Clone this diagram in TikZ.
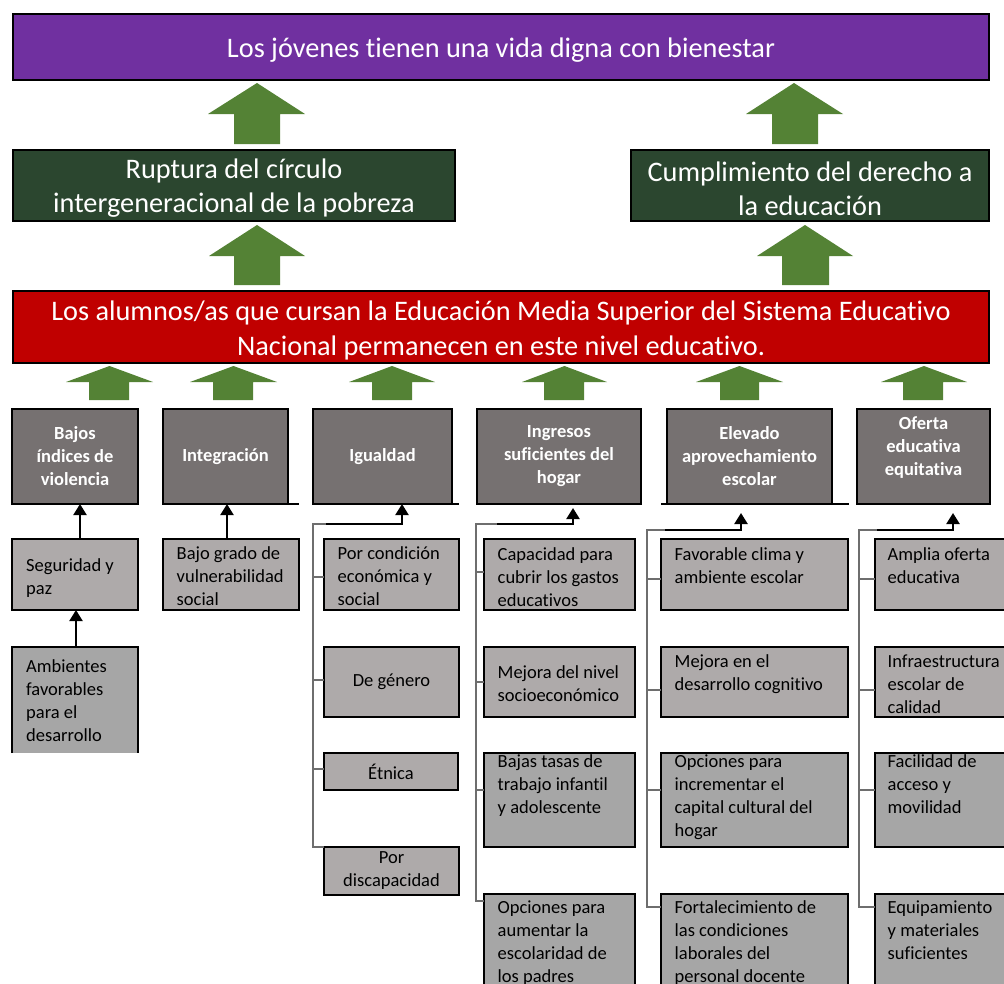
\documentclass[tikz,border=0pt]{standalone}
\usepackage{fontspec}
\setmainfont{Carlito}[Ligatures=NoCommon]
\usetikzlibrary{arrows.meta,calc}
\definecolor{cpurple}{HTML}{7030A0}
\definecolor{cdkgreen}{HTML}{2B462F}
\definecolor{cred}{HTML}{C00000}
\definecolor{cgreen}{HTML}{548235}
\definecolor{ccat}{HTML}{767171}
\definecolor{cchild}{HTML}{AEAAAA}
\definecolor{cchildb}{HTML}{A6A6A6}
\definecolor{cbracket}{HTML}{6E6E6E}
\newcommand\bigf{\fontsize{28.3pt}{34pt}\selectfont}
\newcommand\redf{\fontsize{28.3pt}{35pt}\selectfont}
\newcommand\smf{\fontsize{18.5pt}{23pt}\selectfont}
\newcommand\tl[1]{\parbox[t]{220pt}{\raggedright\smf #1}}
\newcommand\garrow[8]{\fill[cgreen] (#1,#2) -- (#4,#7) -- (#6,#7) -- (#6,#8) -- (#5,#8) -- (#5,#7) -- (#3,#7) -- cycle;}
\newcommand\stub[3]{\coordinate (stubend) at ([yshift=#3]#2.west); \draw[bline] (#1 |- stubend) -- (stubend);}
\begin{document}
\begin{tikzpicture}[x=1pt,y=-1pt,
  bx/.style n args={4}{at={(#1,#2)}, anchor=north west, minimum width=#3pt, minimum height=#4pt, inner sep=0pt, outer sep=0pt, line width=2pt},
  bigbox/.style={draw=black},
  bigtext/.style={text=white, font=\bigf, align=center, inner sep=0pt},
  catbox/.style={draw=black, fill=ccat, text=white, font=\smf\bfseries, align=center},
  childbox/.style={draw=black, fill=cchild, text=black, font=\smf, align=center},
  childboxb/.style={draw=black, fill=cchildb, text=black, font=\smf, align=center},
  ctext/.style={anchor=base west, inner sep=0pt, text=black},
  arr/.style={line width=2.2pt, -{Triangle[width=13pt,length=11pt]}},
  bline/.style={draw=cbracket, line width=1.3pt},
  edge/.style={line width=2pt}
]
\useasboundingbox (0,0) rectangle (1004,983);

% top level boxes
\node[bigbox, fill=cpurple, bx={13}{14}{976}{66}] (goal) {};
\node[bigtext] (goalt) at ([yshift=-3pt]goal.center) {Los jóvenes tienen una vida digna con bienestar};
\node[bigbox, fill=cdkgreen, bx={13}{150}{442}{71}] (rupt) {};
\node[bigtext] (ruptt) at ([yshift=-3pt]rupt.center) {Ruptura del círculo\\intergeneracional de la pobreza};
\node[bigbox, fill=cdkgreen, bx={631}{150}{358}{71}] (cump) {};
\node[bigtext] (cumpt) at ([yshift=-3pt]cump.center) {Cumplimiento del derecho a\\la educación};
\node[bigbox, fill=cred, bx={13}{291}{976}{72}] (purp) {};
\node[bigtext, font=\redf] (purpt) at ([yshift=-3.5pt]purp.center) {Los alumnos/as que cursan la Educación Media Superior del Sistema Educativo\\Nacional permanecen en este nivel educativo.};

% big green arrows
\garrow{257}{83}{208}{305}{234}{280}{114}{144}
\garrow{794}{83}{746}{843}{772}{818}{114}{144}
\garrow{257}{225}{209}{305}{234}{280}{256}{285}
\garrow{805}{225}{757}{853}{782}{829}{256}{285}
% small green arrows
\garrow{109.5}{366}{66}{153}{89}{129}{382}{400}
\garrow{233.5}{366}{190}{277}{213}{253}{382}{400}
\garrow{392}{366}{349}{435}{372}{412}{382}{400}
\garrow{564.5}{366}{522}{607}{544}{584}{382}{400}
\garrow{739.5}{366}{696}{783}{720}{759}{382}{400}
\garrow{924}{366}{881}{967}{903}{943}{382}{400}

% category boxes
\node[catbox, bx={12}{409}{126}{95}] (bajos) {Bajos\\índices de\\violencia};
\node[catbox, bx={163}{409}{125}{95}] (integ) {Integración};
\node[catbox, bx={313}{409}{139}{95}] (igual) {Igualdad};
\node[catbox, bx={477}{409}{164}{95}] (ingre) {Ingresos\\suficientes del\\hogar};
\node[catbox, bx={667}{409}{165}{95}] (eleva) {Elevado\\aprovechamiento\\escolar};
\node[catbox, bx={857}{409}{133}{95}] (ofert) {};
\node[text=white, font=\smf\bfseries, align=center, inner sep=0pt] (oferttxt) at ([yshift=9pt]ofert.center) {Oferta\\educativa\\equitativa};
% bottom edge artifacts
\draw[edge] (integ.south east) -- ++(11,0);
\draw[edge] (igual.south east) -- ++(7,0);
\draw[edge] ([xshift=-6pt]eleva.south west) -- ([xshift=17pt]eleva.south east);

% column 1
\node[childbox, bx={12}{539}{126}{71}] (seg) {};
\node[ctext] (segt) at ([xshift=14pt,yshift=-32pt]seg.north west) {\tl{Seguridad y\\paz}};
\node[fill=cchildb, bx={12}{647}{126}{106}] (amb) {};
\draw[edge] (amb.south west) -- (amb.north west) -- (amb.north east) -- (amb.south east);
\node[ctext] (ambt) at ([xshift=14pt,yshift=-25pt]amb.north west) {\tl{Ambientes\\favorables\\para el\\desarrollo}};
\draw[arr] ([xshift=5pt]seg.north) -- ([xshift=5pt]seg.north |- bajos.south);
\draw[arr] ([xshift=1pt]amb.north) -- ([xshift=1pt]amb.north |- seg.south);

% column 2
\node[childbox, bx={163}{539}{136}{71}] (baj) {};
\node[ctext] (bajt) at ([xshift=13.5pt,yshift=-20pt]baj.north west) {\tl{Bajo grado de\\vulnerabilidad\\social}};
\draw[arr] ([xshift=-4pt]baj.north) -- ([xshift=-4pt]baj.north |- integ.south);

% column 3 (Igualdad)
\node[childbox, bx={324}{539}{135}{71}] (ig1) {};
\node[ctext] (ig1t) at ([xshift=13.5pt,yshift=-20pt]ig1.north west) {\tl{Por condición\\económica y\\social}};
\node[childbox, bx={324}{647}{135}{70}] (ig2) {De género};
\node[childbox, bx={324}{753}{134}{37}] (ig3) {Étnica};
\node[childbox, bx={324}{847}{135}{48}] (ig4) {Por\\discapacidad};
\coordinate (igv) at (313,524);
\coordinate (igtop) at (402,524);
\draw[bline] ([xshift=13pt]igv) -- (igv) |- (ig4.north west);
\stub{igv}{ig1}{-2.5pt}
\stub{igv}{ig2}{2pt}
\stub{igv}{ig3}{2.5pt}
\draw[arr] ([xshift=13pt]igv) -- (igtop) -- (igtop |- igual.south);

% column 4 (Ingresos)
\node[childbox, bx={484}{539}{151}{71}] (in1) {};
\node[ctext] (in1t) at ([xshift=13.5pt,yshift=-21pt]in1.north west) {\tl{Capacidad para\\cubrir los gastos\\educativos}};
\node[childbox, bx={484}{647}{151}{70}] (in2) {};
\node[ctext] (in2t) at ([xshift=13.5pt,yshift=-31pt]in2.north west) {\tl{Mejora del nivel\\socioeconómico}};
\node[childboxb, bx={484}{753}{151}{94}] (in3) {};
\node[ctext] (in3t) at ([xshift=13.5pt,yshift=-14pt]in3.north west) {\tl{Bajas tasas de\\trabajo infantil\\y adolescente}};
\node[childboxb, bx={484}{894}{151}{110}] (in4) {};
\node[ctext] (in4t) at ([xshift=13.5pt,yshift=-19pt]in4.north west) {\tl{Opciones para\\aumentar la\\escolaridad de\\los padres}};
\coordinate (inv) at (476,524);
\coordinate (intop) at (573,524);
\draw[bline] ([xshift=21pt]inv) -- (inv) |- ([yshift=-7pt]in4.north west);
\stub{inv}{in1}{2.5pt}
\stub{inv}{in2}{0pt}
\stub{inv}{in3}{10pt}
\draw[arr] ([xshift=21pt]inv) -- (intop) -- ($(intop |- ingre.south)+(0,4)$);

% column 5 (Elevado)
\node[childbox, bx={661}{539}{187}{71}] (el1) {};
\node[ctext] (el1t) at ([xshift=13.5pt,yshift=-21pt]el1.north west) {\tl{Favorable clima y\\ambiente escolar}};
\node[childbox, bx={661}{647}{187}{70}] (el2) {};
\node[ctext] (el2t) at ([xshift=13.5pt,yshift=-20pt]el2.north west) {\tl{Mejora en el\\desarrollo cognitivo}};
\node[childboxb, bx={661}{753}{187}{94}] (el3) {};
\node[ctext] (el3t) at ([xshift=13.5pt,yshift=-14pt]el3.north west) {\tl{Opciones para\\incrementar el\\capital cultural del\\hogar}};
\node[childboxb, bx={661}{894}{187}{110}] (el4) {};
\node[ctext] (el4t) at ([xshift=13.5pt,yshift=-19pt]el4.north west) {\tl{Fortalecimiento de\\las condiciones\\laborales del\\personal docente}};
\coordinate (elv) at (647,530);
\coordinate (eltop) at (741,530);
\draw[bline] ([xshift=18pt]elv) -- (elv) |- ([yshift=-13pt]el4.north west);
\stub{elv}{el1}{-4.5pt}
\stub{elv}{el2}{-8pt}
\stub{elv}{el3}{10pt}
\draw[arr] ([xshift=18pt]elv) -- (eltop) -- ($(eltop |- eleva.south)+(0,9)$);

% column 6 (Oferta)
\node[childbox, bx={875}{539}{140}{71}] (of1) {};
\node[ctext] (of1t) at ([xshift=12.5pt,yshift=-21pt]of1.north west) {\tl{Amplia oferta\\educativa}};
\node[childbox, bx={875}{647}{140}{70}] (of2) {};
\node[ctext] (of2t) at ([xshift=12.5pt,yshift=-20pt]of2.north west) {\tl{Infraestructura\\escolar de\\calidad}};
\node[childboxb, bx={875}{753}{140}{94}] (of3) {};
\node[ctext] (of3t) at ([xshift=12.5pt,yshift=-14pt]of3.north west) {\tl{Facilidad de\\acceso y\\movilidad}};
\node[childboxb, bx={875}{894}{140}{110}] (of4) {};
\node[ctext] (of4t) at ([xshift=12.5pt,yshift=-19pt]of4.north west) {\tl{Equipamiento\\y materiales\\suficientes}};
\coordinate (ofv) at (859,530);
\coordinate (oftop) at (953,530);
\draw[bline] ([xshift=18pt]ofv) -- (ofv) |- ([yshift=-13pt]of4.north west);
\stub{ofv}{of1}{-4.5pt}
\stub{ofv}{of2}{-8pt}
\stub{ofv}{of3}{10pt}
\draw[arr] ([xshift=18pt]ofv) -- (oftop) -- ($(oftop |- ofert.south)+(0,9)$);
\end{tikzpicture}
\end{document}
